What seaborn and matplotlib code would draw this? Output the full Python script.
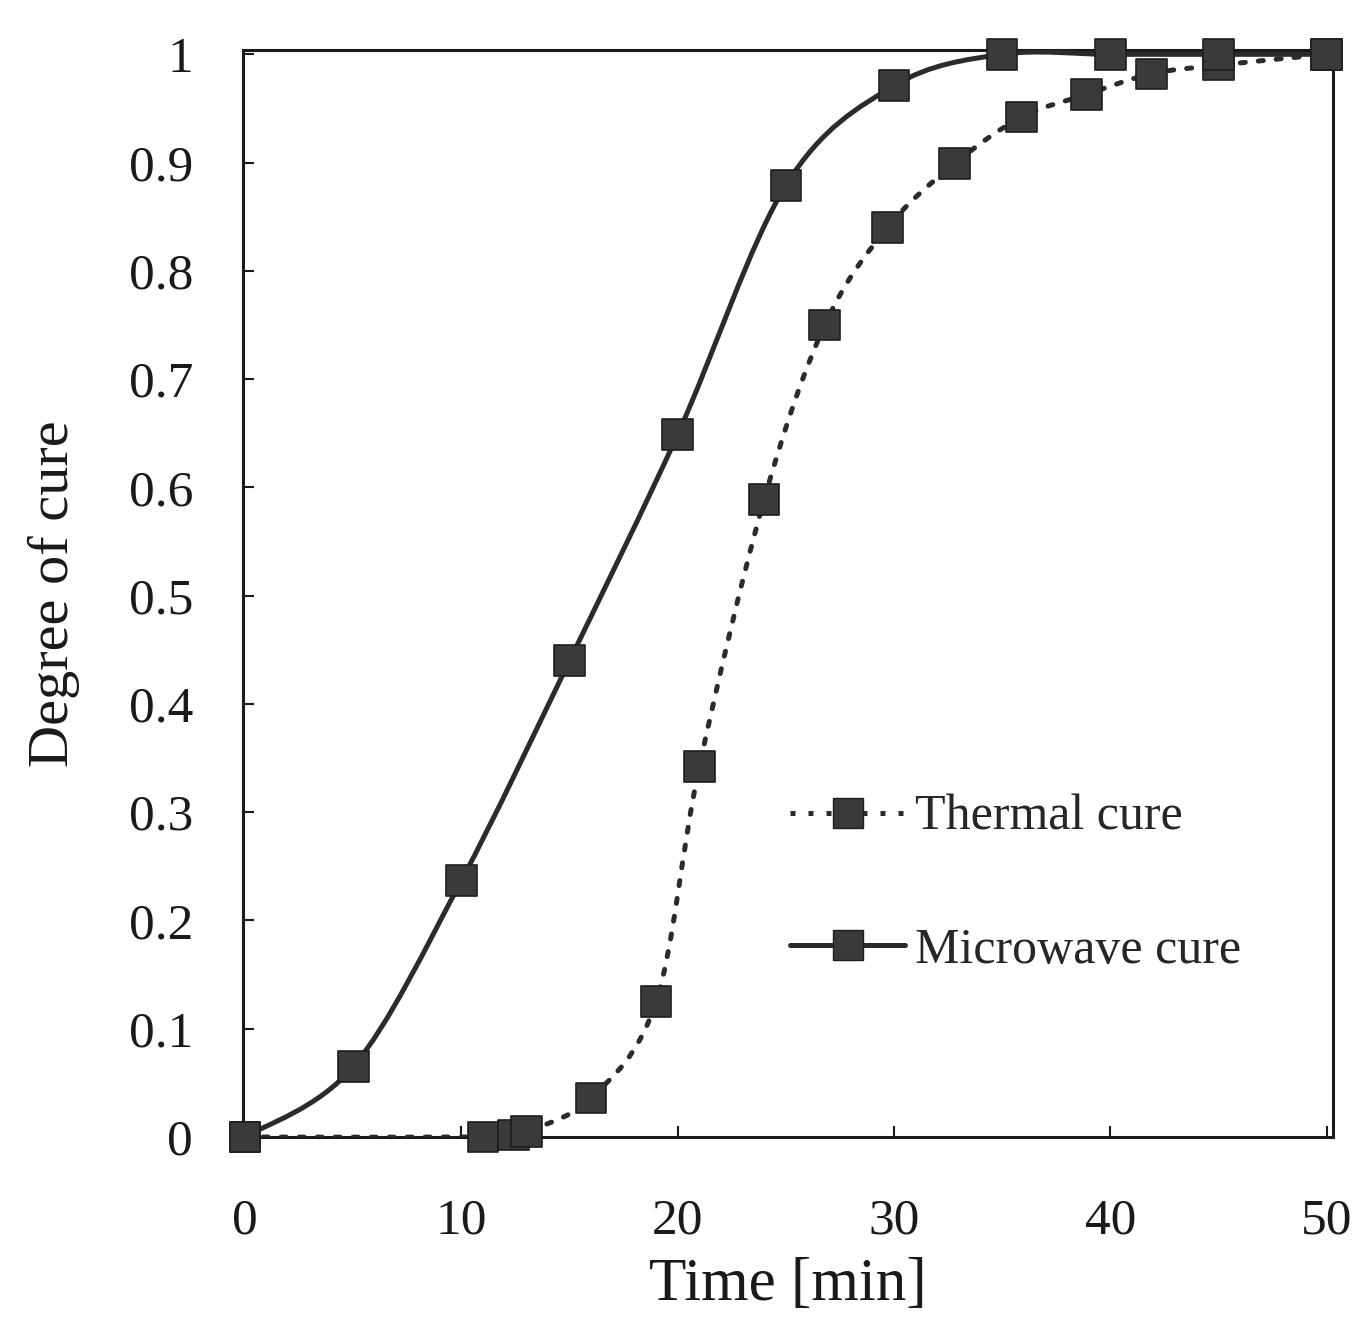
import numpy as np
import matplotlib
matplotlib.use("Agg")
import matplotlib.pyplot as plt
from matplotlib.path import Path
from matplotlib.patches import PathPatch
from matplotlib.lines import Line2D
import seaborn as sns
import pandas as pd

# ---- data ----
microwave_time = [0, 5, 10, 15, 20, 25, 30, 35, 40, 45, 50]
microwave_cure = [0.0, 0.065, 0.237, 0.44, 0.649, 0.879, 0.971, 1.0, 1.0, 1.0, 1.0]

thermal_time = [0, 11, 12.4, 13, 16, 19, 21, 24, 26.8, 29.7, 32.8, 35.9, 38.9, 41.9, 45, 50]
thermal_cure = [0.0, 0.0, 0.002, 0.005, 0.036, 0.125, 0.342, 0.589, 0.75, 0.84,
                0.899, 0.942, 0.963, 0.982, 0.99, 1.0]

x_ticks = [0, 10, 20, 30, 40, 50]
y_ticks = [0, 0.1, 0.2, 0.3, 0.4, 0.5, 0.6, 0.7, 0.8, 0.9, 1.0]
y_tick_labels = ["0", "0.1", "0.2", "0.3", "0.4", "0.5", "0.6", "0.7", "0.8", "0.9", "1"]

series_names = ["Thermal cure", "Microwave cure"]

sns.set_theme(style="ticks")
plt.rcParams["font.family"] = ["Liberation Serif", "DejaVu Serif"]

DPI = 100
fig = plt.figure(figsize=(13.64, 13.17), dpi=DPI)
ax = fig.add_axes([243 / 1364, 1 - 1137 / 1317, (1333 - 243) / 1364, (1137 - 50) / 1317])

ink = "#2b2b2b"


def smooth_path(xs, ys):
    """Catmull-Rom style Bezier smoothing (like a spreadsheet 'smoothed line')."""
    xs = np.asarray(xs, float)
    ys = np.asarray(ys, float)
    n = len(xs)
    verts = [(xs[0], ys[0])]
    codes = [Path.MOVETO]
    for i in range(n - 1):
        p0 = np.array([xs[max(i - 1, 0)], ys[max(i - 1, 0)]])
        p1 = np.array([xs[i], ys[i]])
        p2 = np.array([xs[i + 1], ys[i + 1]])
        p3 = np.array([xs[min(i + 2, n - 1)], ys[min(i + 2, n - 1)]])
        c1 = p1 + (p2 - p0) / 6.0
        c2 = p2 - (p3 - p1) / 6.0
        verts += [tuple(c1), tuple(c2), tuple(p2)]
        codes += [Path.CURVE4] * 3
    return Path(verts, codes)


# microwave: solid smooth line
mw_patch = PathPatch(smooth_path(microwave_time, microwave_cure), fill=False,
                     edgecolor=ink, linewidth=3.6, zorder=3, transform=ax.transData)
ax.add_patch(mw_patch)

# thermal: dotted smooth line
th_patch = PathPatch(smooth_path(thermal_time, thermal_cure), fill=False,
                     edgecolor=ink, linewidth=3.6, linestyle=(0, (1.0, 2.6)),
                     capstyle="round", zorder=3, transform=ax.transData)
ax.add_patch(th_patch)

df = pd.concat([
    pd.DataFrame({"Time": thermal_time, "Cure": thermal_cure, "Series": series_names[0]}),
    pd.DataFrame({"Time": microwave_time, "Cure": microwave_cure, "Series": series_names[1]}),
])
sns.scatterplot(data=df, x="Time", y="Cure", hue="Series",
                palette={series_names[0]: "#3a3a3a", series_names[1]: "#3a3a3a"},
                marker="s", s=22 ** 2, edgecolor="#1e1e1e", linewidth=1.2,
                legend=False, zorder=4, ax=ax, clip_on=False)

ax.set_xlim(-0.1, 50.3)
ax.set_ylim(0, 1.004)
ax.set_xticks(x_ticks)
ax.set_xticklabels([str(t) for t in x_ticks])
ax.set_yticks(y_ticks)
ax.set_yticklabels(y_tick_labels)

for side in ["left", "right", "top", "bottom"]:
    ax.spines[side].set_visible(True)
    ax.spines[side].set_color("#1a1a1a")
    ax.spines[side].set_linewidth(2.2)

ax.tick_params(axis="both", direction="in", length=8, width=1.5, colors="#1a1a1a",
               labelsize=37, labelcolor="#1a1a1a")
ax.tick_params(axis="y", pad=36)
ax.tick_params(axis="x", pad=44)

ax.set_xlabel("Time [min]", fontsize=44, color="#1a1a1a", labelpad=2)
ax.set_ylabel("Degree of cure", fontsize=42, color="#1a1a1a", labelpad=8)
ax.yaxis.set_label_coords(-0.150, 0.5)
ax.xaxis.set_label_coords(0.5, -0.111)

handles = [
    Line2D([0], [0], color=ink, linewidth=3.6, linestyle=(0, (1.0, 2.6)),
           marker="s", markersize=22, markerfacecolor="#3a3a3a", markeredgecolor="#1e1e1e"),
    Line2D([0], [0], color=ink, linewidth=3.6, linestyle="-",
           marker="s", markersize=22, markerfacecolor="#3a3a3a", markeredgecolor="#1e1e1e"),
]
fig.legend(handles, series_names, loc="center left",
           bbox_to_anchor=(790 / 1364, 1 - 884 / 1317), frameon=False,
           fontsize=36, handlelength=2.3, handletextpad=0.2, labelspacing=1.72,
           borderpad=0, borderaxespad=0)

fig.savefig("out.png", dpi=DPI, facecolor="white")
